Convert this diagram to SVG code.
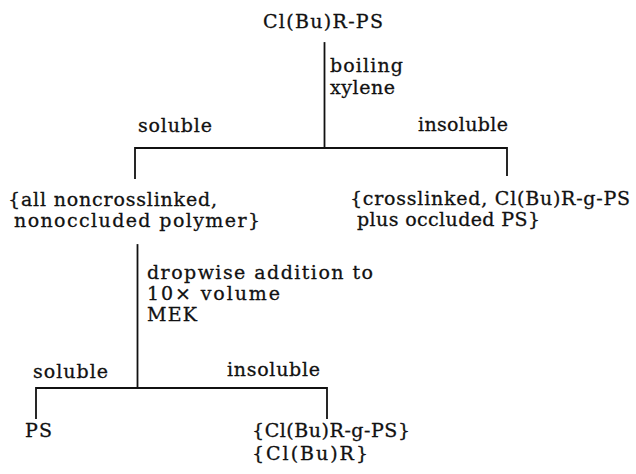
<svg xmlns="http://www.w3.org/2000/svg" width="636" height="474" viewBox="0 0 636 474">
<style>
text { font-family: "DejaVu Serif", "Liberation Serif", serif; font-size: 19px; fill: #111; stroke: #111; stroke-width: 0.3; }
.ln { stroke: #111; stroke-width: 1.8; fill: none; stroke-linecap: square; }
</style>
<rect width="636" height="474" fill="#fff"/>
<g id="connectors">
  <path class="ln" d="M324.5 43 V148"/>
  <path class="ln" d="M135 178 V148 H507 V175"/>
  <path class="ln" d="M137.5 245 V388"/>
  <path class="ln" d="M36 418 V388 H327 V418"/>
</g>
<g id="n-start"><text x="263" y="28" textLength="120" lengthAdjust="spacing">Cl(Bu)R-PS</text></g>
<g id="lbl-xylene">
  <text x="330" y="72" textLength="73" lengthAdjust="spacing">boiling</text>
  <text x="330" y="94" textLength="65" lengthAdjust="spacing">xylene</text>
</g>
<g id="lbl-sol1"><text x="138" y="132" textLength="74" lengthAdjust="spacing">soluble</text></g>
<g id="lbl-insol1"><text x="418" y="131" textLength="90" lengthAdjust="spacing">insoluble</text></g>
<g id="n-soluble">
  <text x="8" y="206" textLength="209" lengthAdjust="spacing">{all noncrosslinked,</text>
  <text x="14" y="227" textLength="246" lengthAdjust="spacing">nonoccluded polymer}</text>
</g>
<g id="n-insoluble">
  <text x="350" y="205" textLength="280" lengthAdjust="spacing">{crosslinked, Cl(Bu)R-g-PS</text>
  <text x="357" y="226" textLength="183" lengthAdjust="spacing">plus occluded PS}</text>
</g>
<g id="lbl-mek">
  <text x="147" y="279" textLength="226" lengthAdjust="spacing">dropwise addition to</text>
  <text x="147" y="300" textLength="133" lengthAdjust="spacing">10× volume</text>
  <text x="147" y="321" textLength="50" lengthAdjust="spacing">MEK</text>
</g>
<g id="lbl-sol2"><text x="33" y="378" textLength="75" lengthAdjust="spacing">soluble</text></g>
<g id="lbl-insol2"><text x="227" y="376" textLength="93" lengthAdjust="spacing">insoluble</text></g>
<g id="n-ps"><text x="25" y="437" textLength="27" lengthAdjust="spacing">PS</text></g>
<g id="n-graft">
  <text x="252" y="437" textLength="158" lengthAdjust="spacing">{Cl(Bu)R-g-PS}</text>
  <text x="252" y="460" textLength="116" lengthAdjust="spacing">{Cl(Bu)R}</text>
</g>
</svg>
